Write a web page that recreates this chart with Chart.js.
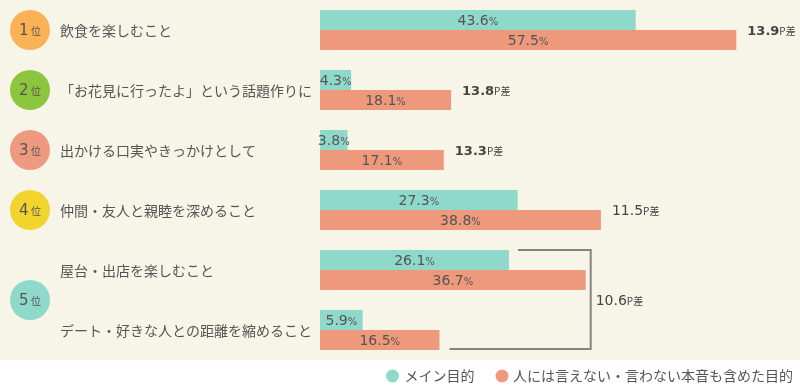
<!DOCTYPE html>
<html><head><meta charset="utf-8">
<script src="https://cdn.jsdelivr.net/npm/chart.js@4/dist/chart.umd.min.js"></script>
<style>html,body{margin:0;padding:0;background:#fff}#wrap{width:800px;height:390px}</style>
</head><body><div id="wrap"><canvas id="c" width="800" height="390"></canvas></div>
<script>
const categories = ['飲食を楽しむこと','「お花見に行ったよ」という話題作りに','出かける口実やきっかけとして','仲間・友人と親睦を深めること','屋台・出店を楽しむこと','デート・好きな人との距離を縮めること'];
const seriesNames = ['メイン目的','人には言えない・言わない本音も含めた目的'];
const mainPurpose = [43.6, 4.3, 3.8, 27.3, 26.1, 5.9];
const truePurpose = [57.5, 18.1, 17.1, 38.8, 36.7, 16.5];
const rankLabels = ['1','2','3','4','5'];
const rankGroups = [[0],[1],[2],[3],[4,5]];
const diffValues = [13.9, 13.8, 13.3, 11.5, 10.6];

const jpFont = "'Noto Sans CJK JP', sans-serif";
const numFont = "'DejaVu Sans', 'Noto Sans CJK JP', sans-serif";
const seriesColors = ['#8fd9cb', '#ee997c'];
const rankColors = ['#fbb254', '#8cc63f', '#ee9a80', '#f2d52c', '#8fd9cb'];
const cream = '#f7f4e8';
const textColor = '#555555';

function drawParts(ctx, parts, x, y, align, color) {
  const widths = parts.map(p => { ctx.font = p.f; return ctx.measureText(p.t).width; });
  const total = widths.reduce((a, b) => a + b, 0);
  let sx = align === 'center' ? x - total / 2 : (align === 'right' ? x - total : x);
  ctx.fillStyle = color; ctx.textBaseline = 'alphabetic'; ctx.textAlign = 'left';
  parts.forEach((p, i) => { ctx.font = p.f; ctx.fillText(p.t, sx, y); sx += widths[i]; });
}

const background = {
  id: 'background',
  beforeDraw(chart) {
    const { ctx, chartArea, width, height } = chart;
    ctx.save();
    ctx.fillStyle = '#ffffff';
    ctx.fillRect(0, 0, width, height);
    ctx.fillStyle = cream;
    ctx.fillRect(0, 0, width, chartArea.bottom);
    ctx.restore();
  }
};

const overlay = {
  id: 'overlay',
  afterDatasetsDraw(chart) {
    const { ctx, scales: { y } } = chart;
    const m0 = chart.getDatasetMeta(0).data, m1 = chart.getDatasetMeta(1).data;
    ctx.save();
    // category labels
    ctx.font = '14px ' + jpFont; ctx.fillStyle = textColor;
    ctx.textAlign = 'left'; ctx.textBaseline = 'middle';
    chart.data.labels.forEach((lab, i) => { ctx.fillText(lab, 60, y.getPixelForValue(i) + 1); });
    // value labels
    [m0, m1].forEach((els, d) => {
      els.forEach((bar, i) => {
        const v = chart.data.datasets[d].data[i];
        const cx = (bar.x + bar.base) / 2;
        drawParts(ctx, [{ t: v.toFixed(1), f: '14px ' + numFont }, { t: '%', f: '10px ' + numFont }], cx, bar.y + 5, 'center', textColor);
      });
    });
    rankGroups.forEach((g, k) => {
      const cy = g.reduce((s, i) => s + y.getPixelForValue(i), 0) / g.length;
      const cx = 30;
      ctx.beginPath(); ctx.arc(cx, cy, 20, 0, Math.PI * 2); ctx.fillStyle = rankColors[k]; ctx.fill();
      drawParts(ctx, [{ t: rankLabels[k], f: '15px ' + numFont }, { t: ' 位', f: '10px ' + jpFont }], cx, cy + 5, 'center', textColor);
      const label = [{ t: diffValues[k].toFixed(1), f: (k < 3 ? 'bold 13px ' : '14px ') + numFont }, { t: 'P差', f: '10px ' + jpFont }];
      if (g.length === 1) {
        const b = m1[g[0]];
        drawParts(ctx, label, b.x + 11, cy + 5, 'left', '#444444');
      } else {
        const topBar = m0[g[0]], botBar = m1[g[g.length - 1]];
        const xr = Math.max(...g.map(i => Math.max(m0[i].x, m1[i].x))) + 5;
        const yt = topBar.y - topBar.height / 2, yb = botBar.y + botBar.height / 2;
        ctx.beginPath();
        ctx.moveTo(topBar.x + 9, yt); ctx.lineTo(xr, yt); ctx.lineTo(xr, yb - 1); ctx.lineTo(botBar.x + 10, yb - 1);
        ctx.strokeStyle = '#858380'; ctx.lineWidth = 2; ctx.stroke();
        drawParts(ctx, label, xr + 5, cy + 5, 'left', '#444444');
      }
    });
    ctx.restore();
  },
  afterDraw(chart) {
    const { ctx } = chart;
    ctx.save();
    ctx.font = '14px ' + jpFont;
    ctx.textBaseline = 'middle'; ctx.textAlign = 'left';
    const ly = 376;
    const w2 = ctx.measureText(seriesNames[1]).width;
    const w1 = ctx.measureText(seriesNames[0]).width;
    const t2x = 793 - w2;
    const c2 = t2x - 11;
    const t1end = c2 - 6.5 - 21;
    const t1x = t1end - w1;
    const c1 = t1x - 12;
    [[c1, t1x, 0], [c2, t2x, 1]].forEach(([cx, tx, i]) => {
      ctx.beginPath(); ctx.arc(cx, ly, 6.5, 0, Math.PI * 2); ctx.fillStyle = seriesColors[i]; ctx.fill();
      ctx.fillStyle = textColor; ctx.fillText(seriesNames[i], tx, ly);
    });
    ctx.restore();
  }
};

new Chart(document.getElementById('c'), {
  type: 'bar',
  data: {
    labels: categories,
    datasets: [
      { label: seriesNames[0], data: mainPurpose, backgroundColor: seriesColors[0], categoryPercentage: 40 / 60, barPercentage: 1 },
      { label: seriesNames[1], data: truePurpose, backgroundColor: seriesColors[1], categoryPercentage: 40 / 60, barPercentage: 1 }
    ]
  },
  options: {
    indexAxis: 'y',
    responsive: false,
    animation: false,
    devicePixelRatio: 1,
    layout: { padding: { left: 320, right: 0, top: 0, bottom: 30 } },
    plugins: { legend: { display: false }, tooltip: { enabled: false } },
    scales: {
      x: { display: false, min: 0, max: 66.3 },
      y: { display: false, offset: true }
    }
  },
  plugins: [background, overlay]
});
</script>
</body></html>
